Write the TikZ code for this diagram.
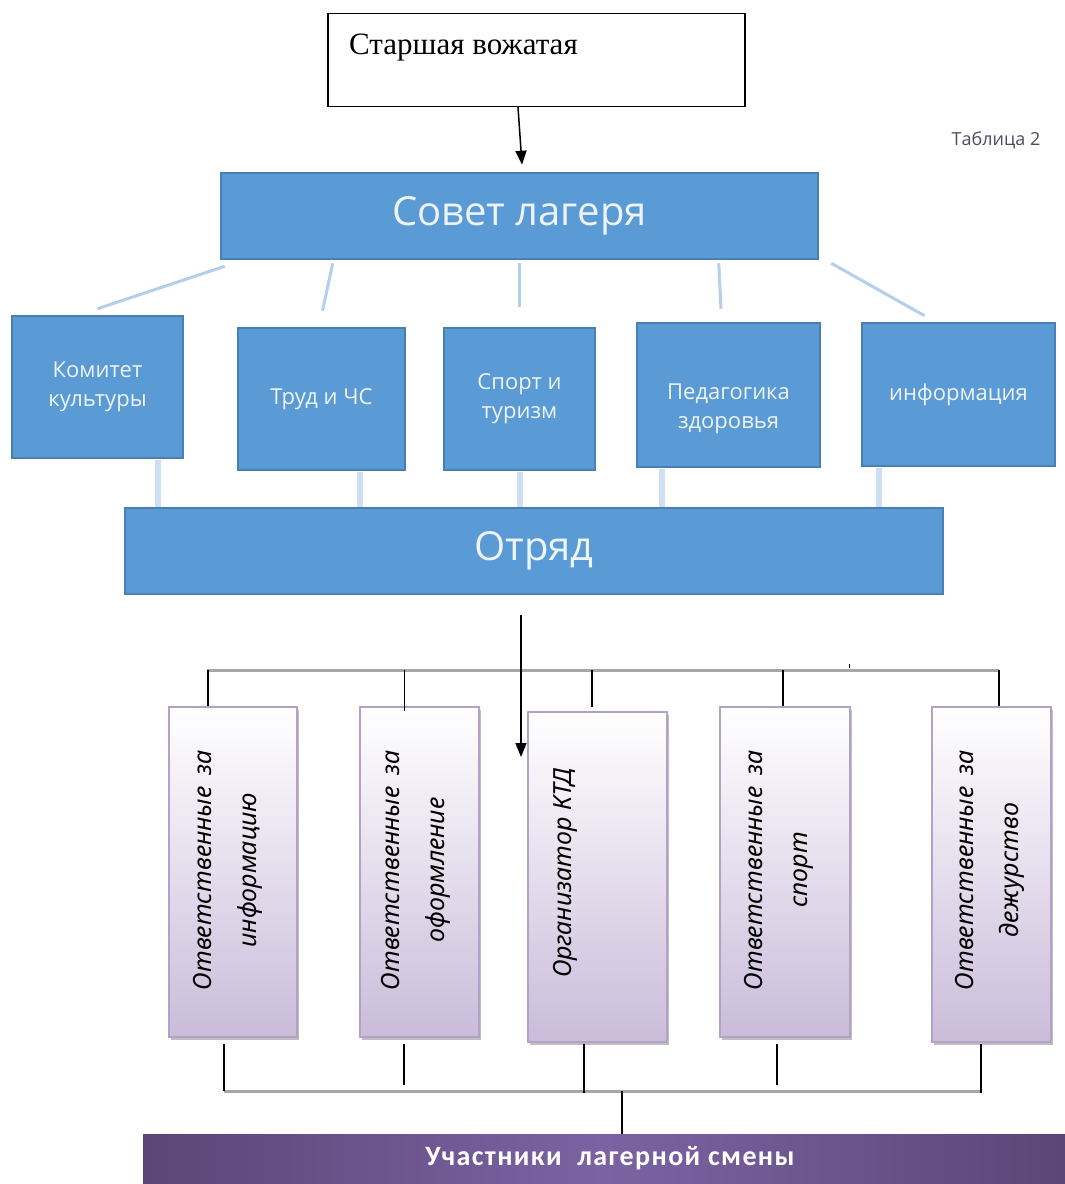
\documentclass[tikz,border=0pt]{standalone}
\usepackage{fontspec}
\setmainfont{Liberation Serif}
\newfontfamily\osans{Open Sans}
\newfontfamily\carl{Carlito}
\newfontfamily\nsans{Noto Sans}
\usetikzlibrary{arrows.meta,calc,shadows}
\definecolor{bfill}{HTML}{5B9BD5}
\definecolor{bedge}{HTML}{4A7FB5}
\definecolor{bline}{HTML}{B4CFEC}
\definecolor{bvert}{HTML}{CCDFF3}
\definecolor{pedge}{HTML}{B3A2C7}
\definecolor{pbot}{HTML}{CABCDA}
\definecolor{busgray}{HTML}{A6A6A6}
\definecolor{bardark}{HTML}{5A4676}
\definecolor{barmid}{HTML}{7B63A3}
\definecolor{btext}{HTML}{EEF4FB}
\definecolor{tgray}{HTML}{4D4D5E}
\tikzset{
  bluebox/.style={draw=bedge, line width=2.5pt, fill=bfill, inner sep=0pt, text=btext, align=center},
  smalltxt/.style={font=\osans\fontsize{22}{29}\selectfont},
  bigtxt/.style={font=\osans\fontsize{40}{48}\selectfont},
  purplebox/.style={draw=pedge, line width=2pt, top color=white, bottom color=pbot, inner sep=0pt,
    drop shadow={shadow xshift=2pt, shadow yshift=-3pt, opacity=0.25, fill=black}},
  ptext/.style={rotate=90, align=center, inner sep=0pt, font=\nsans\itshape\fontsize{25}{45}\selectfont},
  arr/.style={line width=1.5pt, -{Triangle[length=14pt,width=11pt]}},
  slant/.style={draw=bline, line width=3pt},
  vert/.style={draw=bvert, line width=6pt},
  bus/.style={draw=busgray, line width=3pt},
  drop/.style={draw=black, line width=1.5pt}
}
\begin{document}
\begin{tikzpicture}[x=1pt,y=-1pt]
\fill[white] (0,0) rectangle (1065,1184);
\useasboundingbox (0,0) rectangle (1065,1184);

% top
\node[draw, line width=1.2pt, minimum width=417pt, minimum height=93pt, inner sep=0pt] (top) at (536.5,60) {};
\node[anchor=base west, font=\fontsize{31}{36}\selectfont, inner sep=0pt] (toptxt) at (349,54) {Старшая вожатая};
\node[font=\osans\fontsize{18}{22}\selectfont, text=tgray, inner sep=0pt] (tab) at (996,140) {Таблица 2};

% council
\node[bluebox, bigtxt, minimum width=597pt, minimum height=86pt] (sovet) at (519.5,216) {Совет лагеря};
\draw[arr] ($(top.south)+(-18.5,0)$) -- ($(sovet.north)+(2.5,-7)$);

% level 2
\node[bluebox, smalltxt, minimum width=171pt, minimum height=142pt] (kom) at (97.5,387) {Комитет\\культуры};
\node[bluebox, smalltxt, minimum width=167pt, minimum height=142pt] (trud) at (321.5,399) {Труд и ЧС};
\node[bluebox, smalltxt, minimum width=151pt, minimum height=142pt] (sport) at (519.5,399) {Спорт и\\туризм};
\node[bluebox, minimum width=183pt, minimum height=144pt] (ped) at (728.5,395) {};
\node[smalltxt, text=btext, align=center, inner sep=0pt] (pedt) at (728.5,408.5) {Педагогика\\здоровья};
\node[bluebox, smalltxt, minimum width=193pt, minimum height=143pt] (info) at (958.5,394.5) {информация};

\draw[slant] ($(sovet.south west)+(5,6)$) -- ($(kom.north)+(0,-6)$);
\draw[slant] ($(sovet.south west)+(113,3)$) -- ($(trud.north)+(1,-16)$);
\draw[slant] ($(sovet.south)+(0,3)$) -- ($(sport.north)+(0,-20)$);
\draw[slant] ($(sovet.south west)+(499,3)$) -- ($(ped.north)+(-7.5,-13)$);
\draw[slant] ($(sovet.south east)+(12,3)$) -- ($(info.north)+(-34,-6)$);

% squad
\node[bluebox, bigtxt, minimum width=818pt, minimum height=86pt] (otr) at (534,551) {Отряд};
\draw[vert] ($(kom.south)+(60,1)$) -- ($(kom.south |- otr.north)+(60,0)$);
\draw[vert] ($(trud.south)+(38.5,1)$) -- ($(trud.south |- otr.north)+(38.5,0)$);
\draw[vert] ($(sport.south)+(0,1)$) -- ($(sport.south |- otr.north)+(0,0)$);
\draw[vert] ($(ped.south)+(-66.5,1)$) -- ($(ped.south |- otr.north)+(-66.5,0)$);
\draw[vert] ($(info.south)+(-79.5,1)$) -- ($(info.south |- otr.north)+(-79.5,0)$);

% purple boxes
\node[purplebox, minimum width=128pt, minimum height=330pt] (p1) at (233,872) {};
\node[purplebox, minimum width=119pt, minimum height=330pt] (p2) at (419.5,872) {};
\node[purplebox, minimum width=139pt, minimum height=330pt] (p3) at (597.5,877) {};
\node[purplebox, minimum width=130pt, minimum height=330pt] (p4) at (785,872) {};
\node[purplebox, minimum width=119pt, minimum height=335pt] (p5) at (991.5,874.5) {};

\node[ptext] (t1) at (227.5,870) {\makebox[240pt][s]{Ответственные\hfill за}\\информацию};
\node[ptext] (t2) at (416,870) {\makebox[240pt][s]{Ответственные\hfill за}\\оформление};
\node[ptext] (t3) at (565,873) {Организатор КТД};
\node[ptext] (t4) at (778.5,870) {\makebox[240pt][s]{Ответственные\hfill за}\\спорт};
\node[ptext] (t5) at (990,870) {\makebox[240pt][s]{Ответственные\hfill за}\\дежурство};

% upper bus
\coordinate (busL) at (207,670);
\coordinate (busR) at (999,670);
\draw[bus] (busL) -- (busR);
\draw[drop, line width=1pt] (849,664) -- (849,668);
\draw[drop] ($(p1.north)+(-25,0)$) -- ($(p1.north |- busL)+(-25,0)$);
\draw[drop] ($(p2.north)+(-15,5)$) -- ($(p2.north |- busL)+(-15,0)$);
\draw[drop] ($(p3.north)+(-5.5,-4)$) -- ($(p3.north |- busL)+(-5.5,0)$);
\draw[drop] ($(p4.north)+(-2,0)$) -- ($(p4.north |- busL)+(-2,0)$);
\draw[drop] ($(p5.north)+(7.5,0)$) -- ($(p5.north |- busL)+(7.5,0)$);

% arrow from squad
\coordinate (arrEnd) at (521,757);
\draw[arr] ($(otr.south)+(-13,20)$) -- (arrEnd);

% participants
\node[minimum width=922pt, minimum height=50pt, inner sep=0pt, left color=bardark, right color=bardark, middle color=barmid] (part) at (604,1159) {};
\node[text=white, inner sep=0pt, font=\carl\bfseries\fontsize{28}{30}\selectfont\addfontfeature{LetterSpace=5}] (partt) at (610,1158) {Участники\ \ лагерной смены};

% lower bus
\coordinate (bbL) at (224,1091);
\coordinate (bbR) at (981,1091);
\draw[bus] (bbL) -- (bbR);
\draw[drop] ($(p1.south)+(-9,6)$) -- ($(p1.south |- bbL)+(-9,0)$);
\draw[drop] ($(p2.south)+(-15.5,6)$) -- ($(p2.south)+(-15.5,47)$);
\draw[drop] ($(p3.south)+(-13.5,1)$) -- ($(p3.south)+(-13.5,50)$);
\draw[drop] ($(p4.south)+(-8,6)$) -- ($(p4.south)+(-8,47)$);
\draw[drop] ($(p5.south)+(-10.5,1)$) -- ($(p5.south)+(-10.5,50)$);
\draw[drop] ($(part.north)+(18,0)$) -- ($(part.north |- bbL)+(18,0)$);
\end{tikzpicture}
\end{document}
